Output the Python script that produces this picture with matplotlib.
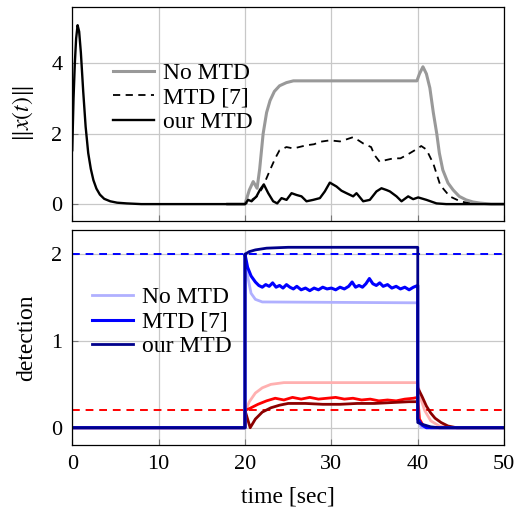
import numpy as np
import matplotlib
matplotlib.use("Agg")
import matplotlib.pyplot as plt

plt.rcParams['font.family'] = 'serif'
plt.rcParams['font.serif'] = ['Liberation Serif', 'DejaVu Serif']
plt.rcParams['mathtext.fontset'] = 'stix'
plt.rcParams['font.size'] = 17

# ---- top panel: ||x(t)|| ----
t_our = [0, 0.15, 0.3, 0.45, 0.62, 0.8, 1.0, 1.27, 1.55, 1.85, 2.15, 2.45, 2.8, 3.2, 3.7, 4.4, 5.2, 6.3, 8,
         20.0, 20.37, 20.76, 21.33, 21.72, 22.18, 22.69, 23.26, 23.73, 24.23, 24.81, 25.39, 25.96, 26.54, 27.12,
         27.89, 28.67, 29.24, 29.82, 30.59, 31.17, 31.75, 32.52, 32.91, 33.68, 34.45, 35.22, 35.8, 36.38, 36.77,
         37.54, 38.12, 38.89, 39.47, 40.05, 41.01, 42.17, 43.3, 50]
x_our = [1.53, 3.0, 4.0, 4.7, 5.08, 4.9, 4.3, 3.2, 2.2, 1.45, 1.0, 0.68, 0.44, 0.27, 0.15, 0.08, 0.04, 0.02, 0,
         0, 0.12, 0.08, 0.22, 0.40, 0.56, 0.31, 0.08, 0.02, 0.17, 0.12, 0.31, 0.26, 0.22, 0.08,
         0.12, 0.17, 0.36, 0.61, 0.50, 0.38, 0.31, 0.22, 0.31, 0.08, 0.12, 0.36, 0.45, 0.40, 0.36,
         0.22, 0.08, 0.22, 0.14, 0.19, 0.12, 0.02, 0, 0]

t_mtd7 = [18, 20.0, 21.3, 22.0, 22.9, 23.5, 24.0, 24.8, 25.6, 27.1, 28.0, 28.7, 29.8, 31.0, 31.4, 32.5, 33.2,
          33.7, 34.6, 35.0, 35.6, 36.3, 37.2, 38.0, 38.7, 40.0, 40.4, 41.0, 41.8, 42.6, 43.7, 44.9, 46.4, 50]
x_mtd7 = [0, 0, 0.2, 0.45, 0.97, 1.3, 1.53, 1.62, 1.58, 1.67, 1.7, 1.77, 1.81, 1.78, 1.81, 1.9, 1.8,
          1.72, 1.62, 1.39, 1.2, 1.25, 1.3, 1.3, 1.39, 1.58, 1.65, 1.55, 1.15, 0.54, 0.22, 0.08, 0, 0]

t_nomtd = [18, 20.0, 20.5, 20.95, 21.4, 21.7, 22.1, 22.5, 22.9, 23.4, 24.0, 24.8, 25.6, 39.9, 40.2, 40.6, 41.0,
           41.4, 41.8, 42.2, 42.5, 42.9, 43.5, 44.1, 44.8, 45.6, 46.4, 47.2, 48.5, 50]
x_nomtd = [0, 0, 0.4, 0.64, 0.45, 1.0, 2.0, 2.6, 2.94, 3.2, 3.36, 3.45, 3.5, 3.5, 3.7, 3.9, 3.7,
           3.3, 2.6, 2.0, 1.45, 0.97, 0.6, 0.4, 0.22, 0.12, 0.06, 0.03, 0, 0]

# ---- bottom panel: detection ----
t_b_our = [0, 20, 20, 20.5, 21.2, 22.5, 25, 30, 35, 40, 40, 40.5, 41.5, 42.5, 50]
d_b_our = [0, 0, 2.0, 2.03, 2.05, 2.07, 2.08, 2.08, 2.08, 2.08, 0.06, 0.04, 0.01, 0, 0]

t_b_mtd7 = [0, 20, 20, 20.3, 20.7, 21.2, 21.6, 22.0, 22.4, 22.8, 23.2, 23.6, 24.0, 24.4, 24.8, 25.2, 25.6,
            26.0, 26.5, 27.0, 27.5, 28.0, 28.5, 29.0, 29.5, 30.0, 30.5, 31.0, 31.5, 32.0, 32.4, 32.8, 33.2,
            33.6, 34.0, 34.4, 34.8, 35.2, 35.6, 36.0, 36.5, 37.0, 37.5, 38.0, 38.5, 39.0, 39.5, 40, 40, 40.5,
            41, 50]
d_b_mtd7 = [0, 0, 2.0, 1.85, 1.75, 1.68, 1.64, 1.62, 1.65, 1.63, 1.67, 1.62, 1.64, 1.61, 1.65, 1.62, 1.60,
            1.63, 1.59, 1.61, 1.58, 1.61, 1.59, 1.62, 1.60, 1.61, 1.59, 1.62, 1.60, 1.63, 1.68, 1.62, 1.64,
            1.62, 1.66, 1.72, 1.66, 1.64, 1.67, 1.63, 1.65, 1.61, 1.63, 1.60, 1.62, 1.59, 1.62, 1.64, 0.1, 0.03,
            0, 0]

t_b_no = [0, 20, 20, 20.3, 20.7, 21.2, 22, 40, 40, 40.4, 50]
d_b_no = [0, 0, 2.0, 1.75, 1.55, 1.48, 1.45, 1.44, 0.1, 0, 0]

t_r_no = [0, 20, 20, 20.5, 21.2, 22, 23, 24.5, 40, 40.3, 40.8, 41.5, 42.5, 44, 50]
d_r_no = [0, 0, 0.18, 0.3, 0.4, 0.46, 0.5, 0.52, 0.52, 0.35, 0.2, 0.08, 0.02, 0, 0]

t_r_mtd7 = [0, 20, 20, 20.5, 21.5, 22.5, 23.5, 24.5, 25.5, 26.5, 27.5, 28.5, 29.5, 30.5, 31.5, 32.5, 33.5,
            34.5, 35.5, 36.5, 37.5, 38.5, 39.5, 40, 40.2, 40.6, 41.5, 50]
d_r_mtd7 = [0, 0, 0.2, 0.22, 0.27, 0.31, 0.34, 0.32, 0.35, 0.33, 0.35, 0.33, 0.34, 0.35, 0.33, 0.34, 0.32,
            0.33, 0.31, 0.32, 0.31, 0.33, 0.34, 0.35, 0.1, 0.03, 0, 0]

t_r_our = [0, 20, 20, 20.3, 20.6, 21.2, 22, 23, 24, 25, 27, 29, 31, 33, 35, 37, 39, 40, 40, 40.5, 41, 41.5,
           42, 42.7, 43.5, 44.5, 50]
d_r_our = [0, 0, 0.2, 0.1, 0.0, 0.1, 0.18, 0.23, 0.26, 0.28, 0.28, 0.27, 0.27, 0.28, 0.28, 0.29, 0.3, 0.3,
           0.46, 0.36, 0.25, 0.17, 0.11, 0.06, 0.02, 0, 0]

thr_blue = 2.0
thr_red = 0.2

fig = plt.figure(figsize=(5.16, 5.11), dpi=100)
ax1 = fig.add_axes([0.140, 0.5675, 0.837, 0.419])
ax2 = fig.add_axes([0.140, 0.129, 0.837, 0.421])

ax1.plot(t_nomtd, x_nomtd, color='#999999', lw=2.2, label='No MTD')
ax1.plot(t_mtd7, x_mtd7, color='black', lw=1.3, ls=(0, (4, 3)), label='MTD [7]')
ax1.plot(t_our, x_our, color='black', lw=1.7, label='our MTD')
ax1.set_ylim(-0.48, 5.6)
ax1.set_yticks([0, 2, 4])
ax1.set_ylabel(r'$\|x(t)\|$', labelpad=11)
ax1.legend(loc='center left', bbox_to_anchor=(0.094, 0.575), frameon=False, handlelength=1.75,
           handletextpad=0.38, labelspacing=0.12, borderaxespad=0, borderpad=0)

ax2.axhline(thr_blue, color='blue', lw=1.4, ls=(0, (4, 3)))
ax2.axhline(thr_red, color='red', lw=1.4, ls=(0, (4, 3)))
ax2.plot(t_r_no, d_r_no, color='#ffb0b0', lw=2.0)
ax2.plot(t_r_mtd7, d_r_mtd7, color='#ff0000', lw=2.0)
ax2.plot(t_r_our, d_r_our, color='#8b0000', lw=2.0)
ax2.plot(t_b_no, d_b_no, color='#b0b0ff', lw=2.0, label='No MTD')
ax2.plot(t_b_mtd7, d_b_mtd7, color='#0000ff', lw=2.2, label='MTD [7]')
ax2.plot(t_b_our, d_b_our, color='#00008b', lw=2.0, label='our MTD')
ax2.set_ylim(-0.2, 2.28)
ax2.set_yticks([0, 1, 2])
ax2.set_ylabel('detection', labelpad=10)
ax2.set_xlabel('time [sec]', labelpad=9)
ax2.legend(loc='center left', bbox_to_anchor=(0.045, 0.572), frameon=False, handlelength=1.75,
           handletextpad=0.38, labelspacing=0.12, borderaxespad=0, borderpad=0)

for ax in (ax1, ax2):
    ax.set_xlim(0, 50)
    ax.set_xticks([0, 10, 20, 30, 40, 50])
    ax.grid(True, color='#c8c8c8', lw=0.9)
    ax.set_axisbelow(True)
    ax.tick_params(direction='in', length=4, color='#777777', labelsize=16, pad=7)
    for s in ax.spines.values():
        s.set_linewidth(0.9)
ax1.tick_params(labelbottom=False)

fig.savefig('out.png', dpi=100)
